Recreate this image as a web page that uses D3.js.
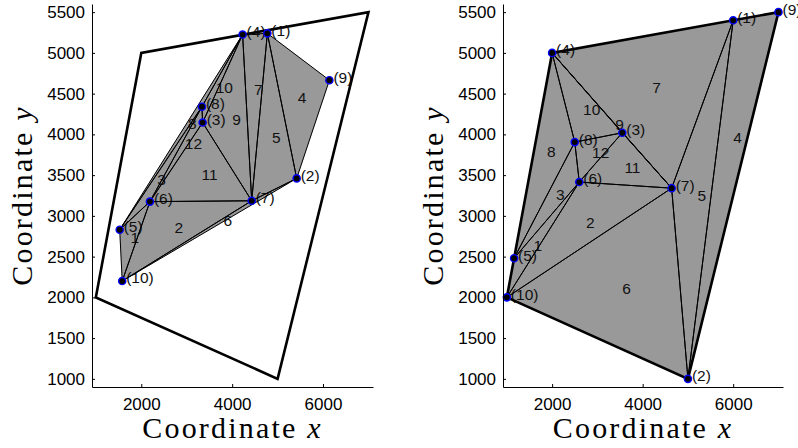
<!DOCTYPE html>
<html>
<head>
<meta charset="utf-8">
<script src="https://cdn.jsdelivr.net/npm/d3@7"></script>
<style>
  html, body { margin: 0; padding: 0; background: #fff; }
  svg { display: block; }
</style>
</head>
<body>
<svg id="chart" width="798" height="448"></svg>
<script>
// ---- data ----
const nodeIds = [1, 2, 3, 4, 5, 6, 7, 8, 9, 10];
// undeformed (right panel)
const refX = [6000, 5000, 3550, 2000, 1160, 2600, 4640, 2500, 7000, 1000];
const refY = [5400, 1000, 4020, 5000, 2480, 3415, 3340, 3905, 5500, 2000];
// deformed (left panel)
const defX = [4775, 5420, 3350, 4230, 1525, 2190, 4430, 3335, 6140, 1580];
const defY = [5240, 3460, 4145, 5225, 2830, 3175, 3185, 4340, 4665, 2200];
// element connectivity (node numbers)
const elemIds = [1, 2, 3, 4, 5, 6, 7, 8, 9, 10, 11, 12];
const elemN1 = [5, 10, 8, 1, 1, 10, 4, 4, 4, 4, 6, 8];
const elemN2 = [6, 6, 6, 9, 7, 7, 1, 8, 3, 8, 7, 6];
const elemN3 = [10, 7, 5, 2, 2, 2, 7, 5, 7, 3, 3, 3];
// outer domain boundary
const quadX = [1000, 2000, 7000, 5000];
const quadY = [2000, 5000, 5500, 1000];
// axes
const xDomain = [915, 7100];
const yDomain = [900, 5600];
const xTicks = [2000, 4000, 6000];
const yTicks = [1000, 1500, 2000, 2500, 3000, 3500, 4000, 4500, 5000, 5500];

const svg = d3.select("#chart");
svg.append("rect").attr("width", 798).attr("height", 448).attr("fill", "#fff");

const sansFont = "'Liberation Sans', Arial, Helvetica, sans-serif";
const serifFont = "'Liberation Serif', 'Times New Roman', serif";

function drawPanel(opts) {
  const { left, right, top, bottom, xs, ys } = opts;
  const x = d3.scaleLinear().domain(xDomain).range([left, right]);
  const y = d3.scaleLinear().domain(yDomain).range([bottom, top]);
  const g = svg.append("g");

  const P = i => [x(xs[i - 1]), y(ys[i - 1])];
  const elems = elemIds.map((id, k) => ({ id, nodes: [elemN1[k], elemN2[k], elemN3[k]] }));

  // fills
  g.append("g").selectAll("path").data(elems).join("path")
    .attr("d", e => "M" + e.nodes.map(n => P(n).join(",")).join("L") + "Z")
    .attr("fill", "#999999").attr("stroke", "#999999").attr("stroke-width", 0.5);

  // element labels
  g.append("g").selectAll("text").data(elems).join("text")
    .attr("x", e => d3.mean(e.nodes, n => P(n)[0]))
    .attr("y", e => d3.mean(e.nodes, n => P(n)[1]))
    .attr("dy", "0.35em")
    .attr("font-family", sansFont).attr("font-size", 15.5).attr("fill", "#111")
    .text(e => e.id);

  // node labels
  g.append("g").selectAll("text").data(nodeIds).join("text")
    .attr("x", n => P(n)[0] + 4)
    .attr("y", n => P(n)[1] - 3)
    .attr("dy", "0.35em")
    .attr("font-family", sansFont).attr("font-size", 15.5).attr("fill", "#111")
    .text(n => "(" + n + ")");

  // mesh edges
  g.append("g").selectAll("path").data(elems).join("path")
    .attr("d", e => "M" + e.nodes.map(n => P(n).join(",")).join("L") + "Z")
    .attr("fill", "none").attr("stroke", "#000").attr("stroke-width", 1)
    .attr("stroke-linejoin", "round");

  // outer boundary
  const quadPts = quadX.map((v, i) => [x(v), y(quadY[i])]);
  g.append("path")
    .attr("d", "M" + quadPts.map(p => p.join(",")).join("L") + "Z")
    .attr("fill", "none").attr("stroke", "#000").attr("stroke-width", 2.6)
    .attr("stroke-linejoin", "miter");

  // nodes
  g.append("g").selectAll("circle").data(nodeIds).join("circle")
    .attr("cx", n => P(n)[0]).attr("cy", n => P(n)[1])
    .attr("r", 3.6).attr("fill", "#000").attr("stroke", "#0000ff").attr("stroke-width", 1.4);

  // axes
  const ax = g.append("g").attr("transform", `translate(0,${bottom})`)
    .call(d3.axisBottom(x).tickValues(xTicks).tickSizeInner(-3).tickSizeOuter(0).tickPadding(11).tickFormat(d3.format("d")));
  const ay = g.append("g").attr("transform", `translate(${left},0)`)
    .call(d3.axisLeft(y).tickValues(yTicks).tickSizeInner(-3).tickSizeOuter(0).tickPadding(7).tickFormat(d3.format("d")));
  [ax, ay].forEach(a => {
    a.attr("font-family", sansFont).attr("font-size", 17);
    a.selectAll("text").attr("fill", "#000");
    a.selectAll("line, path").attr("stroke", "#000").attr("stroke-width", 1);
  });

  // axis titles
  const xt = g.append("text")
    .attr("x", (left + right) / 2).attr("y", 438)
    .attr("text-anchor", "middle")
    .attr("font-family", serifFont).attr("font-size", 30).attr("letter-spacing", 2.2)
    .attr("fill", "#000");
  xt.append("tspan").text("Coordinate ");
  xt.append("tspan").attr("font-style", "italic").text("x");

  const yt = g.append("text")
    .attr("transform", `translate(${left - 60},${(top + bottom) / 2}) rotate(-90)`)
    .attr("text-anchor", "middle")
    .attr("font-family", serifFont).attr("font-size", 30).attr("letter-spacing", 2.2)
    .attr("fill", "#000");
  yt.append("tspan").text("Coordinate ");
  yt.append("tspan").attr("font-style", "italic").text("y");
}

drawPanel({ left: 92, right: 373, top: 4, bottom: 387, xs: defX, ys: defY });
drawPanel({ left: 503, right: 783, top: 4, bottom: 387, xs: refX, ys: refY });
</script>
</body>
</html>
